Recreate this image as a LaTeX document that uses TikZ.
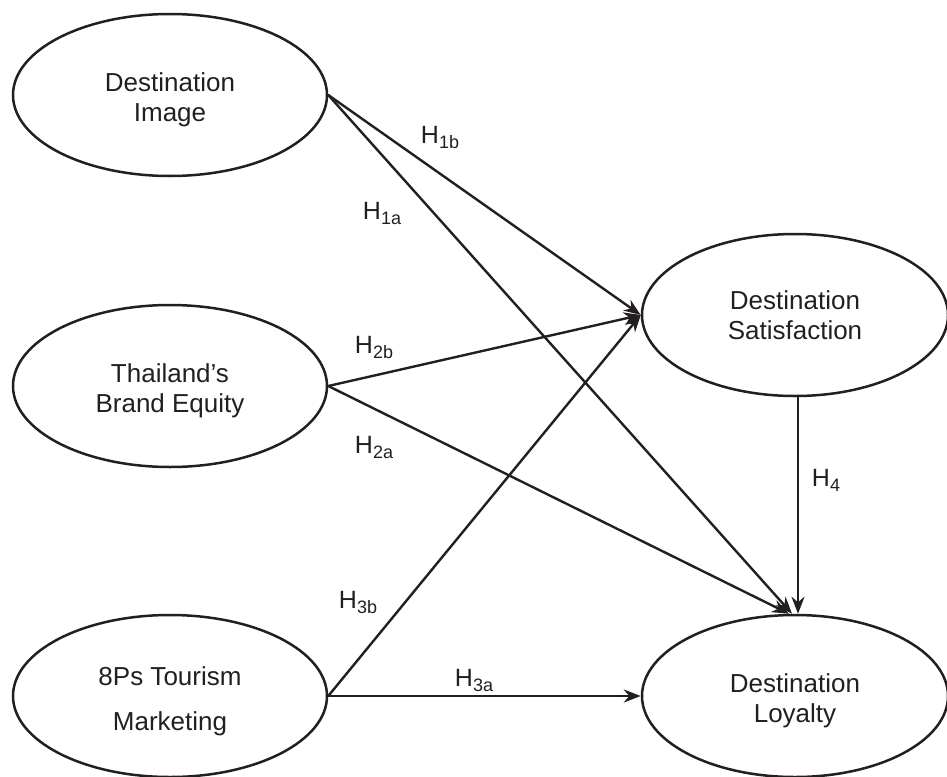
\documentclass[tikz,border=0pt]{standalone}
\usepackage{fontspec}
\setmainfont{Liberation Sans}
\usepackage{xcolor}
\usetikzlibrary{shapes.geometric,arrows.meta}
\definecolor{ink}{HTML}{231F20}
\newcommand{\hyp}[1]{H\raisebox{-5pt}{\fontsize{18}{18}\selectfont #1}}
\newcommand{\upstrut}{\rule{0pt}{29pt}}
\tikzset{
  construct/.style={ellipse, draw=ink, line width=2.5pt, minimum width=314pt, minimum height=162pt, inner sep=0pt, align=center, text=ink, font=\fontsize{26}{30}\selectfont},
  outcome/.style={construct, minimum width=306pt},
  link/.style={draw=ink, line width=2.4pt, line cap=round, -{Stealth[length=17pt, width=13pt]}},
  lab/.style={text=ink, inner sep=0pt, font=\fontsize{25}{30}\selectfont},
}

\begin{document}
\begin{tikzpicture}[x=1pt, y=-1pt]
  \useasboundingbox (0,0) rectangle (947,776);
  % constructs
  \node[construct] (di) at (170,95) {\upstrut Destination\\Image};
  \node[construct] (tbe) at (170,386) {\upstrut Thailand’s\\Brand Equity};
  \node[construct] (mkt) at (170,696) {\upstrut 8Ps Tourism\\[15pt]Marketing};
  \node[outcome] (ds) at (795,315) {Destination\\Satisfaction};
  \node[outcome] (dl) at (795,696) {\upstrut Destination\\Loyalty};
  % hypotheses
  \draw[link] (di.east) -- (ds.west);
  \draw[link] (di.east) -- ([xshift=-3pt]dl.north);
  \draw[link] (tbe.east) -- (ds.west);
  \draw[link] (tbe.east) -- ([xshift=-6pt]dl.north);
  \draw[link] (mkt.east) -- (ds.west);
  \draw[link] (mkt.east) -- (dl.west);
  \draw[link] ([xshift=3pt]ds.south) -- ([xshift=3pt]dl.north);
  \node[lab] (h1b) at (440,137) {\hyp{1b}};
  \node[lab] (h1a) at (382,213) {\hyp{1a}};
  \node[lab] (h2b) at (374,347) {\hyp{2b}};
  \node[lab] (h2a) at (374,447) {\hyp{2a}};
  \node[lab] (h3b) at (358,602) {\hyp{3b}};
  \node[lab] (h3a) at (474,680) {\hyp{3a}};
  \node[lab] (h4) at (826,480) {\hyp{4}};
\end{tikzpicture}
\end{document}
